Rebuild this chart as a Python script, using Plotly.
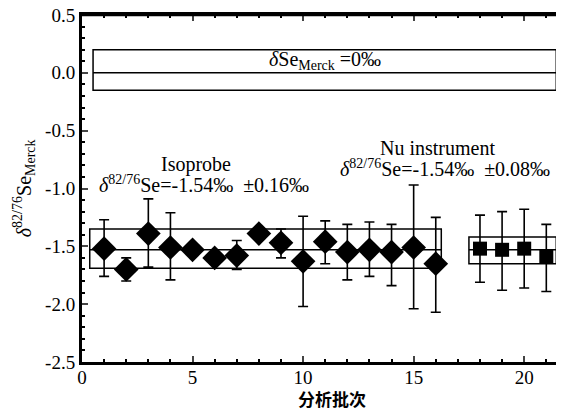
import plotly.graph_objects as go

# Isoprobe runs
iso_x = list(range(1, 17))
iso_y = [-1.52, -1.70, -1.39, -1.51, -1.53, -1.60, -1.58, -1.39, -1.47, -1.63, -1.46, -1.55, -1.53, -1.55, -1.51, -1.65]
iso_up = [0.25, 0.10, 0.30, 0.30, 0.0, 0.02, 0.13, 0.0, 0.12, 0.39, 0.18, 0.24, 0.24, 0.24, 0.54, 0.40]
iso_dn = [0.24, 0.10, 0.29, 0.28, 0.0, 0.05, 0.12, 0.0, 0.13, 0.39, 0.19, 0.24, 0.23, 0.29, 0.53, 0.42]

# Nu instrument runs
nu_x = [18, 19, 20, 21]
nu_y = [-1.52, -1.53, -1.52, -1.59]
nu_up = [0.29, 0.33, 0.34, 0.28]
nu_dn = [0.29, 0.35, 0.34, 0.30]

# reference bands: [x0, x1, low, mid, high]
merck_band = [0.5, 21.45, -0.15, 0.0, 0.2]
iso_band = [0.35, 16.25, -1.69, -1.53, -1.35]
nu_band = [17.5, 21.45, -1.65, -1.53, -1.42]

x_ticks = [0, 5, 10, 15, 20]
y_ticks = [0.5, 0.0, -0.5, -1.0, -1.5, -2.0, -2.5]
y_labels = ["0.5", "0.0", "-0.5", "-1.0", "-1.5", "-2.0", "-2.5"]

FONT = "Liberation Serif, Times New Roman, serif"

fig = go.Figure()
fig.add_trace(go.Scatter(
    x=iso_x, y=iso_y, mode="markers",
    marker=dict(symbol="diamond", size=19, color="black"),
    error_y=dict(type="data", symmetric=False, array=iso_up, arrayminus=iso_dn,
                 color="black", thickness=1.6, width=5),
    showlegend=False))
fig.add_trace(go.Scatter(
    x=nu_x, y=nu_y, mode="markers",
    marker=dict(symbol="square", size=14, color="black"),
    error_y=dict(type="data", symmetric=False, array=nu_up, arrayminus=nu_dn,
                 color="black", thickness=1.6, width=5),
    showlegend=False))

shapes = []
for b in (merck_band, iso_band, nu_band):
    x0, x1, lo, mid, hi = b
    shapes.append(dict(type="rect", xref="x", yref="y", x0=x0, x1=x1, y0=lo, y1=hi,
                       line=dict(color="black", width=1.5), layer="below"))
    shapes.append(dict(type="line", xref="x", yref="y", x0=x0, x1=x1, y0=mid, y1=mid,
                       line=dict(color="black", width=1.5), layer="below"))
# top frame line
shapes.append(dict(type="line", xref="paper", yref="paper", x0=0, x1=1, y0=1, y1=1,
                   line=dict(color="black", width=2.5)))

annotations = [
    dict(x=11.0, y=0.11, text="<i>δ</i>Se<sub>Merck</sub> =0‰", font=dict(size=20)),
    dict(x=5.15, y=-0.79, text="Isoprobe", font=dict(size=20)),
    dict(x=5.5, y=-0.96, text="<i>δ</i><sup>82/76</sup>Se=-1.54‰  ±0.16‰", font=dict(size=20)),
    dict(x=16.1, y=-0.65, text="Nu instrument", font=dict(size=20)),
    dict(x=16.4, y=-0.82, text="<i>δ</i><sup>82/76</sup>Se=-1.54‰  ±0.08‰", font=dict(size=20)),
]
for a in annotations:
    a.update(xref="x", yref="y", showarrow=False)
    a["font"]["family"] = FONT
    a["font"]["color"] = "black"

# axis titles as paper-positioned text
annotations.append(dict(xref="paper", yref="paper", x=0.518, y=-0.105, showarrow=False,
                        text="<b>分析批次</b>", xanchor="center", yanchor="middle",
                        font=dict(size=17, family="Noto Sans CJK SC", color="black")))
annotations.append(dict(xref="paper", yref="paper", x=-0.121, y=0.5, showarrow=False,
                        text="<i>δ</i><sup>82/76</sup>Se<sub>Merck</sub>", textangle=-90,
                        xanchor="center", yanchor="middle",
                        font=dict(size=20, family=FONT, color="black")))

# page body has an 8px margin; size the figure so the plot area lands where the reference has it
fig.update_layout(
    width=556, height=403,
    margin=dict(l=74, r=0, t=7, b=49),
    paper_bgcolor="white", plot_bgcolor="white",
    font=dict(family=FONT, color="black", size=17),
    shapes=shapes, annotations=annotations,
    xaxis=dict(range=[0, 21.8], tickvals=x_ticks, ticks="inside", ticklen=6, tickwidth=1.5,
               showline=True, linewidth=2.5, linecolor="black", mirror="ticks",
               showgrid=False, zeroline=False, automargin=False,
               ticklabeloverflow="allow", ticklabelstandoff=-4,
               minor=dict(dtick=1, ticks="inside", ticklen=3, tickcolor="black"),
               tickfont=dict(size=19)),
    yaxis=dict(range=[-2.5, 0.5], tickvals=y_ticks, ticktext=y_labels, ticks="inside", ticklen=6,
               tickwidth=1.5, showline=True, linewidth=3, linecolor="black", mirror=False,
               showgrid=False, zeroline=False, automargin=False,
               ticklabeloverflow="allow",
               minor=dict(dtick=0.1, ticks="inside", ticklen=3, tickcolor="black"),
               tickfont=dict(size=19)),
)

fig.write_html("out.html")
